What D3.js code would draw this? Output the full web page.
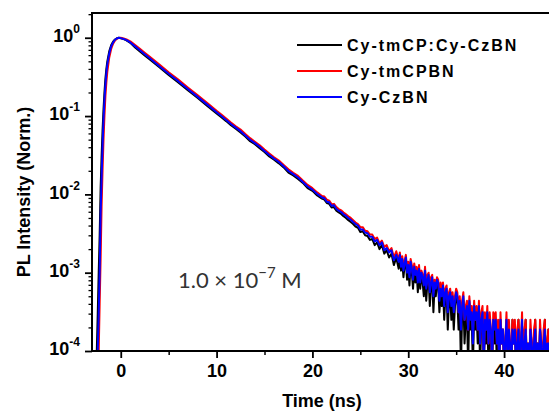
<!DOCTYPE html>
<html>
<head>
<meta charset="utf-8">
<script src="https://cdn.jsdelivr.net/npm/d3@7"></script>
<style>
  body { margin: 0; background: #fff; }
  svg { display: block; }
</style>
</head>
<body>
<div id="chart"></div>
<script>
// time axis for the steep rise and the clean part of the decay (ns)
var headTime = [-3, -2.5, -2.4, -2.3, -2.2, -2.1, -2.0, -1.9, -1.8, -1.7, -1.6, -1.5, -1.4,
    -1.2, -1.0, -0.8, -0.6, -0.4, -0.2, 0, 0.3, 0.6, 1, 1.5, 2, 2.5, 3,
    4, 5, 6, 7, 8, 9, 10, 10.5, 11, 11.5, 12, 12.5, 13, 13.5, 14, 14.5, 15, 15.5,
    16, 16.5, 17, 17.5, 18, 18.5, 19, 19.5, 20, 20.5, 21];

// normalized intensity on headTime
var headBlack = [0, 0.0001, 0.0003, 0.001, 0.003, 0.012, 0.03, 0.065, 0.12, 0.2, 0.3, 0.4, 0.5,
    0.67, 0.8, 0.89, 0.95, 0.985, 1.0, 0.985, 0.96, 0.925, 0.86, 0.752, 0.668, 0.595, 0.531,
    0.422, 0.335, 0.269, 0.214, 0.171, 0.136, 0.108, 0.0965, 0.0862, 0.0762, 0.0688, 0.0618, 0.0548, 0.0478, 0.0437, 0.0389, 0.0348, 0.0305,
    0.0277, 0.0249, 0.0221, 0.019, 0.0175, 0.0157, 0.014, 0.012, 0.0111, 0.0097, 0.00882];
var headRed = [0, 0, 0, 0.0001, 0.0004, 0.0015, 0.007, 0.02, 0.05, 0.1, 0.18, 0.27, 0.37,
    0.56, 0.72, 0.84, 0.92, 0.97, 0.995, 1.0, 0.98, 0.95, 0.9, 0.805, 0.722, 0.645, 0.575,
    0.457, 0.363, 0.292, 0.232, 0.185, 0.148, 0.117, 0.1048, 0.0931, 0.0829, 0.0742, 0.0672, 0.059, 0.0522, 0.047, 0.0424, 0.0374, 0.0333,
    0.0298, 0.0271, 0.0238, 0.0209, 0.0189, 0.0172, 0.015, 0.0132, 0.012, 0.0106, 0.00955];
var headBlue = [0, 0, 0.0001, 0.0003, 0.001, 0.0056, 0.016, 0.04, 0.089, 0.16, 0.25, 0.355, 0.457,
    0.63, 0.776, 0.871, 0.944, 0.982, 1.0, 0.989, 0.966, 0.933, 0.871, 0.776, 0.692, 0.617, 0.55,
    0.437, 0.347, 0.279, 0.222, 0.177, 0.141, 0.112, 0.1, 0.0893, 0.0791, 0.0711, 0.0642, 0.0566, 0.0498, 0.0451, 0.0405, 0.0359, 0.0318,
    0.0286, 0.0259, 0.0228, 0.0199, 0.0181, 0.0164, 0.0144, 0.0126, 0.0115, 0.0101, 0.00914];

// tail as raw photon counts (normalized by peakCounts)
var peakCounts = 16000;
// channels every 0.25 ns from 21.25 to 29 ns
var midStart = 21.25, midStep = 0.25;
var midBlack = [
    137, 124, 121, 109, 110, 99, 94, 90,
    84, 80, 75, 71, 67, 62, 60, 53,
    54, 48, 47, 42, 43, 36, 39, 32,
    36, 28, 31, 25, 28, 20, 25, 18];
var midRed = [
    150, 137, 133, 120, 121, 110, 104, 100,
    94, 89, 84, 80, 75, 70, 67, 61,
    61, 55, 54, 49, 49, 43, 45, 38,
    41, 34, 36, 30, 33, 25, 30, 23];
var midBlue = [
    143, 129, 127, 114, 116, 104, 99, 95,
    89, 85, 80, 76, 71, 67, 64, 57,
    57, 52, 51, 46, 46, 40, 42, 36,
    39, 31, 33, 29, 31, 23, 27, 22];

// channels every 0.125 ns from 29.125 to 45 ns
var farStart = 29.125, farStep = 0.125;
var farBlack = [
    25, 17, 22, 14, 20, 23, 13, 19, 11, 21, 16, 10, 18, 12, 16, 9,
    17, 10, 15, 12, 8, 16, 7, 12, 14, 6, 11, 13, 5, 11, 8, 12,
    11, 5, 9, 6, 10, 4, 8, 9, 3, 7, 8, 4, 7, 3, 6, 8,
    7, 3, 6, 1, 5, 7, 2, 4, 5, 1, 6, 3, 4, 1, 5, 3,
    5, 2, 5, 1, 4, 5, 1, 3, 2, 4, 1, 4, 2, 1, 4, 2,
    4, 1, 3, 1, 4, 2, 3, 1, 2, 4, 1, 3, 1, 1, 4, 2,
    3, 1, 2, 4, 1, 2, 3, 1, 2, 4, 1, 2, 1, 3, 2, 1,
    2, 4, 1, 2, 1, 3, 2, 1, 2, 4, 1, 2, 3, 1, 3, 1];
var farRed = [
    29, 21, 26, 19, 23, 27, 18, 22, 16, 24, 20, 15, 21, 17, 19, 14,
    20, 13, 17, 15, 12, 19, 11, 15, 16, 10, 14, 15, 9, 13, 11, 14,
    13, 8, 12, 9, 12, 7, 10, 11, 6, 9, 10, 7, 9, 6, 8, 10,
    9, 5, 8, 4, 7, 9, 4, 6, 7, 3, 8, 5, 6, 3, 7, 4,
    6, 3, 7, 2, 5, 6, 1, 5, 3, 6, 2, 5, 3, 1, 5, 4,
    5, 2, 4, 1, 5, 2, 3, 1, 2, 5, 1, 4, 2, 1, 4, 2,
    4, 1, 3, 4, 1, 2, 5, 1, 3, 4, 1, 2, 1, 4, 2, 1,
    3, 4, 1, 2, 1, 4, 2, 1, 3, 4, 1, 2, 3, 1, 4, 1];
var farBlue = [
    27, 19, 24, 17, 21, 25, 16, 20, 14, 22, 18, 13, 19, 15, 17, 12,
    18, 12, 16, 14, 11, 17, 10, 13, 15, 9, 12, 14, 8, 12, 10, 13,
    12, 7, 10, 8, 11, 6, 9, 10, 5, 8, 9, 6, 8, 5, 7, 9,
    8, 5, 7, 3, 6, 8, 4, 5, 6, 3, 7, 4, 5, 2, 6, 4,
    5, 3, 6, 2, 4, 5, 1, 4, 3, 5, 2, 4, 3, 1, 4, 3,
    4, 2, 3, 1, 4, 2, 3, 1, 2, 4, 1, 3, 2, 1, 3, 2,
    3, 1, 2, 3, 1, 2, 4, 1, 2, 3, 1, 2, 1, 3, 2, 1,
    2, 3, 1, 2, 1, 3, 2, 1, 2, 3, 1, 2, 2, 1, 3, 1];

var seriesNames = ["Cy-tmCP:Cy-CzBN", "Cy-tmCPBN", "Cy-CzBN"];
var seriesColors = ["#000000", "#ff0000", "#0000ff"];
var yTickValues = [1e-4, 1e-3, 1e-2, 1e-1, 1];
var yTickExps = ["-4", "-3", "-2", "-1", "0"];
var xTickValues = [0, 10, 20, 30, 40];

var width = 549, height = 412;
var plotLeft = 92, plotTop = 13, plotBottom = 351, plotRight = 549;

var svg = d3.select("#chart").append("svg")
    .attr("width", width).attr("height", height);

var x = d3.scaleLinear().domain([-3, 45]).range([plotLeft, 552]);
var y = d3.scaleLog().domain([1e-4, 2.07]).range([plotBottom, plotTop]);

function buildSeries(head, mid, far) {
    var pts = headTime.map(function (t, i) { return [t, head[i]]; });
    mid.forEach(function (c, i) { pts.push([midStart + i * midStep, c / peakCounts]); });
    far.forEach(function (c, i) { pts.push([farStart + i * farStep, c / peakCounts]); });
    return pts;
}

var series = [
    buildSeries(headBlack, midBlack, farBlack),
    buildSeries(headRed, midRed, farRed),
    buildSeries(headBlue, midBlue, farBlue)
];

svg.append("clipPath").attr("id", "plot-clip")
    .append("rect").attr("x", plotLeft).attr("y", plotTop)
    .attr("width", plotRight - plotLeft).attr("height", plotBottom - plotTop);

var line = d3.line()
    .x(function (d) { return x(d[0]); })
    .y(function (d) { return y(Math.max(d[1], 1e-6)); });

var plot = svg.append("g").attr("clip-path", "url(#plot-clip)");
series.forEach(function (s, i) {
    plot.append("path")
        .datum(s)
        .attr("fill", "none")
        .attr("stroke", seriesColors[i])
        .attr("stroke-width", 2)
        .attr("stroke-linejoin", "round")
        .attr("d", line);
});

var axisFont = "'Liberation Sans', Arial, sans-serif";

// x axis
var xAxis = svg.append("g").attr("transform", "translate(0," + plotBottom + ")")
    .call(d3.axisBottom(x).tickValues(xTickValues).tickSize(7).tickSizeOuter(0).tickPadding(6));
xAxis.select(".domain").remove();
xAxis.selectAll(".tick line").attr("stroke-width", 1.8);
xAxis.selectAll("text")
    .attr("font-family", axisFont).attr("font-weight", "bold")
    .attr("font-size", 18).attr("fill", "#000");
svg.append("g").attr("transform", "translate(0," + plotBottom + ")")
    .call(d3.axisBottom(x).tickValues([5, 15, 25, 35]).tickSize(4).tickFormat(""))
    .call(function (g) { g.select(".domain").remove(); })
    .selectAll(".tick line").attr("stroke-width", 1.5);

// y axis with minor decade ticks
var yMinor = [];
yTickValues.slice(0, 4).forEach(function (d) {
    for (var k = 2; k <= 9; k++) yMinor.push(d * k);
});
yMinor.push(2);
svg.append("g").attr("transform", "translate(" + plotLeft + ",0)")
    .call(d3.axisLeft(y).tickValues(yMinor).tickSize(3.5).tickFormat(""))
    .call(function (g) { g.select(".domain").remove(); })
    .selectAll(".tick line").attr("stroke-width", 1.3);

var yAxis = svg.append("g").attr("transform", "translate(" + plotLeft + ",0)")
    .call(d3.axisLeft(y).tickValues(yTickValues).tickSize(7).tickSizeOuter(0).tickPadding(5)
        .tickFormat(function () { return ""; }));
yAxis.select(".domain").remove();
yAxis.selectAll(".tick line").attr("stroke-width", 1.8);
yAxis.selectAll(".tick text").each(function (d, i) {
    var t = d3.select(this)
        .attr("font-family", axisFont).attr("font-weight", "bold")
        .attr("fill", "#000").attr("dy", "0.38em");
    t.append("tspan").attr("font-size", 18).text("10");
    t.append("tspan").attr("font-size", 12).attr("dy", "-0.75em").text(yTickExps[i]);
});

// frame: left, top, bottom
svg.append("path")
    .attr("d", "M" + plotRight + "," + plotTop + "H" + plotLeft + "V" + plotBottom + "H" + plotRight)
    .attr("fill", "none").attr("stroke", "#000").attr("stroke-width", 2);

// axis titles
svg.append("text")
    .attr("x", 322).attr("y", 407)
    .attr("text-anchor", "middle")
    .attr("font-family", axisFont).attr("font-weight", "bold").attr("font-size", 18)
    .text("Time (ns)");
svg.append("text")
    .attr("transform", "translate(30,192) rotate(-90)")
    .attr("text-anchor", "middle")
    .attr("font-family", axisFont).attr("font-weight", "bold").attr("font-size", 18)
    .text("PL Intensity (Norm.)");

// legend
var legend = svg.append("g");
seriesNames.forEach(function (name, i) {
    var ly = 45 + i * 26;
    legend.append("line")
        .attr("x1", 297).attr("x2", 342).attr("y1", ly).attr("y2", ly)
        .attr("stroke", seriesColors[i]).attr("stroke-width", 1.8);
    legend.append("text")
        .attr("x", 347).attr("y", ly + 6)
        .attr("font-family", axisFont).attr("font-weight", "bold").attr("font-size", 16)
        .attr("letter-spacing", 2)
        .text(name);
});

// concentration note
var note = svg.append("text")
    .attr("x", 178).attr("y", 288)
    .attr("font-family", "Lato, 'Open Sans', sans-serif").attr("font-size", 22)
    .attr("fill", "#333");
note.append("tspan").text("1.0 \u00d7 10");
note.append("tspan").attr("font-size", 15).attr("dy", "-0.65em").text("\u22127");
note.append("tspan").attr("dy", "0.43em").text(" M");
</script>
</body>
</html>
